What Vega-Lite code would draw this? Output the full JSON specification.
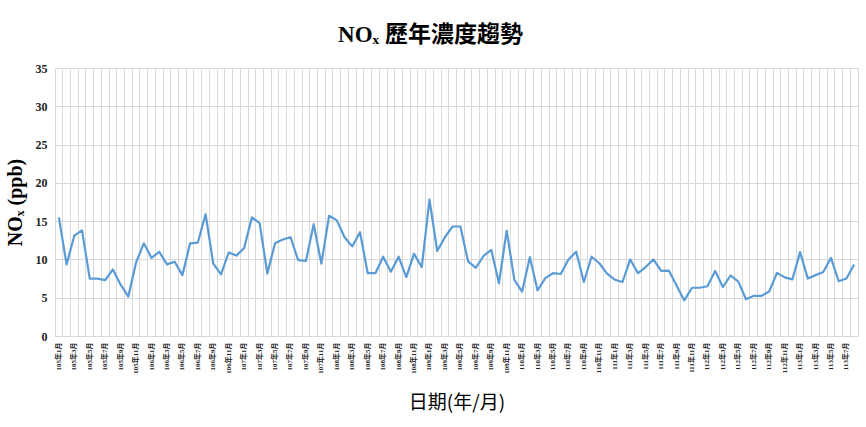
{
  "$schema": "https://vega.github.io/schema/vega-lite/v6.json",
  "width": 803,
  "height": 268,
  "autosize": {"type": "none"},
  "padding": {"left": 55, "top": 68, "right": 8, "bottom": 91},
  "background": "white",
  "view": {"stroke": "#d9d9d9", "strokeWidth": 1},
  "title": {
    "text": "NOₓ 歷年濃度趨勢",
    "font": "Liberation Serif, Noto Sans CJK TC",
    "fontSize": 23,
    "fontWeight": "bold",
    "color": "#000000",
    "anchor": "middle",
    "dx": -26,
    "offset": 15
  },
  "data": {
    "values": [
      {"d": "105年1月", "v": 15.5}, {"d": "105年2月", "v": 9.35}, {"d": "105年3月", "v": 13.1}, {"d": "105年4月", "v": 13.8},
      {"d": "105年5月", "v": 7.5}, {"d": "105年6月", "v": 7.5}, {"d": "105年7月", "v": 7.3}, {"d": "105年8月", "v": 8.7},
      {"d": "105年9月", "v": 6.7}, {"d": "105年10月", "v": 5.15}, {"d": "105年11月", "v": 9.6}, {"d": "105年12月", "v": 12.1},
      {"d": "106年1月", "v": 10.2}, {"d": "106年2月", "v": 11.0}, {"d": "106年3月", "v": 9.35}, {"d": "106年4月", "v": 9.7},
      {"d": "106年5月", "v": 7.95}, {"d": "106年6月", "v": 12.1}, {"d": "106年7月", "v": 12.2}, {"d": "106年8月", "v": 15.9},
      {"d": "106年9月", "v": 9.45}, {"d": "106年10月", "v": 8.05}, {"d": "106年11月", "v": 10.9}, {"d": "106年12月", "v": 10.5},
      {"d": "107年1月", "v": 11.5}, {"d": "107年2月", "v": 15.5}, {"d": "107年3月", "v": 14.75}, {"d": "107年4月", "v": 8.15},
      {"d": "107年5月", "v": 12.1}, {"d": "107年6月", "v": 12.6}, {"d": "107年7月", "v": 12.9}, {"d": "107年8月", "v": 9.9},
      {"d": "107年9月", "v": 9.8}, {"d": "107年10月", "v": 14.6}, {"d": "107年11月", "v": 9.45}, {"d": "107年12月", "v": 15.7},
      {"d": "108年1月", "v": 15.1}, {"d": "108年2月", "v": 12.9}, {"d": "108年3月", "v": 11.7}, {"d": "108年4月", "v": 13.55},
      {"d": "108年5月", "v": 8.2}, {"d": "108年6月", "v": 8.2}, {"d": "108年7月", "v": 10.35}, {"d": "108年8月", "v": 8.4},
      {"d": "108年9月", "v": 10.35}, {"d": "108年10月", "v": 7.7}, {"d": "108年11月", "v": 10.75}, {"d": "108年12月", "v": 9.0},
      {"d": "109年1月", "v": 17.8}, {"d": "109年2月", "v": 11.1}, {"d": "109年3月", "v": 12.9}, {"d": "109年4月", "v": 14.3},
      {"d": "109年5月", "v": 14.3}, {"d": "109年6月", "v": 9.75}, {"d": "109年7月", "v": 8.9}, {"d": "109年8月", "v": 10.45},
      {"d": "109年9月", "v": 11.25}, {"d": "109年10月", "v": 6.9}, {"d": "109年11月", "v": 13.75}, {"d": "109年12月", "v": 7.3},
      {"d": "110年1月", "v": 5.8}, {"d": "110年2月", "v": 10.3}, {"d": "110年3月", "v": 5.95}, {"d": "110年4月", "v": 7.55},
      {"d": "110年5月", "v": 8.2}, {"d": "110年6月", "v": 8.1}, {"d": "110年7月", "v": 10.0}, {"d": "110年8月", "v": 11.0},
      {"d": "110年9月", "v": 7.05}, {"d": "110年10月", "v": 10.35}, {"d": "110年11月", "v": 9.5}, {"d": "110年12月", "v": 8.15},
      {"d": "111年1月", "v": 7.35}, {"d": "111年2月", "v": 7.05}, {"d": "111年3月", "v": 10.0}, {"d": "111年4月", "v": 8.2},
      {"d": "111年5月", "v": 9.0}, {"d": "111年6月", "v": 10.0}, {"d": "111年7月", "v": 8.5}, {"d": "111年8月", "v": 8.55},
      {"d": "111年9月", "v": 6.6}, {"d": "111年10月", "v": 4.65}, {"d": "111年11月", "v": 6.3}, {"d": "111年12月", "v": 6.3},
      {"d": "112年1月", "v": 6.5}, {"d": "112年2月", "v": 8.5}, {"d": "112年3月", "v": 6.4}, {"d": "112年4月", "v": 7.9},
      {"d": "112年5月", "v": 7.1}, {"d": "112年6月", "v": 4.8}, {"d": "112年7月", "v": 5.25}, {"d": "112年8月", "v": 5.25},
      {"d": "112年9月", "v": 5.8}, {"d": "112年10月", "v": 8.25}, {"d": "112年11月", "v": 7.65}, {"d": "112年12月", "v": 7.4},
      {"d": "113年1月", "v": 10.95}, {"d": "113年2月", "v": 7.5}, {"d": "113年3月", "v": 7.95}, {"d": "113年4月", "v": 8.35},
      {"d": "113年5月", "v": 10.2}, {"d": "113年6月", "v": 7.15}, {"d": "113年7月", "v": 7.5}, {"d": "113年8月", "v": 9.35}
    ]
  },
  "mark": {"type": "line", "color": "#5b9bd5", "strokeWidth": 2.2, "strokeJoin": "round"},
  "encoding": {
    "x": {
      "field": "d",
      "type": "ordinal",
      "sort": null,
      "scale": {"type": "band", "paddingInner": 0, "paddingOuter": 0},
      "axis": {
        "title": "日期(年/月)",
        "titleFont": "Noto Sans CJK TC",
        "titleFontSize": 19,
        "titleFontWeight": "normal",
        "titleColor": "#000000",
        "titlePadding": 20,
        "labelAngle": -90,
        "labelAlign": "right",
        "labelBaseline": "middle",
        "labelFont": "Liberation Serif, Noto Sans CJK TC",
        "labelFontSize": 7,
        "labelFontWeight": "bold",
        "labelColor": "#222222",
        "labelPadding": 6,
        "labelOverlap": false,
        "labelExpr": "test(regexp('年(1|3|5|7|9|11)月$'), datum.value) ? datum.value : ''",
        "ticks": false,
        "domain": true,
        "domainColor": "#d9d9d9",
        "grid": true,
        "gridColor": "#d9d9d9",
        "gridWidth": 1,
        "bandPosition": 0
      }
    },
    "y": {
      "field": "v",
      "type": "quantitative",
      "scale": {"domain": [0, 35], "nice": false},
      "axis": {
        "values": [0, 5, 10, 15, 20, 25, 30, 35],
        "title": "NOₓ (ppb)",
        "titleFont": "Liberation Serif",
        "titleFontSize": 20,
        "titleFontWeight": "bold",
        "titleColor": "#000000",
        "titlePadding": 10,
        "labelFont": "Liberation Serif",
        "labelFontSize": 12,
        "labelFontWeight": "bold",
        "labelColor": "#222222",
        "labelPadding": 8,
        "ticks": false,
        "domain": false,
        "grid": true,
        "gridColor": "#d9d9d9",
        "gridWidth": 1
      }
    }
  }
}
